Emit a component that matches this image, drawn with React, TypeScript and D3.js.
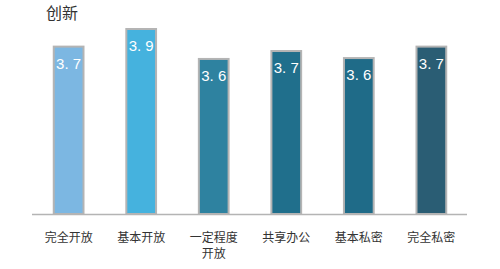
import React from "react";
import * as d3 from "d3";

const categories = ["完全开放", "基本开放", "一定程度\n开放", "共享办公", "基本私密", "完全私密"];
const values = [3.7, 3.9, 3.56, 3.65, 3.57, 3.7];
const labels = ["3. 7", "3. 9", "3. 6", "3. 7", "3. 6", "3. 7"];
const colors = ["#7cb7e2", "#45b2de", "#2e82a0", "#206f8c", "#1f6b88", "#2a5d74"];
const title = "创新";

export default function App() {
  const W = 500, H = 269;
  const x = d3.scaleBand<number>().domain(d3.range(categories.length)).range([32, 468]).paddingInner(0.59).paddingOuter(0.3);
  const y = d3.scaleLinear().domain([1.8, 3.9]).range([214, 29]);
  const font = "'Noto Sans CJK SC', 'Noto Sans', sans-serif";
  return (
    <svg width={W} height={H} style={{ position: "absolute", left: 0, top: 0 }}>
      <rect width={W} height={H} fill="#fff" />
      <text x={46} y={19} fontSize={16} fill="#333" fontFamily={font}>{title}</text>
      {values.map((v, i) => {
        const bx = x(i)!;
        const bw = x.bandwidth();
        return (
          <g key={i}>
            <rect x={bx} y={y(v)} width={bw} height={214 - y(v)} fill={colors[i]} stroke="#b4b4b4" strokeWidth={2} />
            <text x={bx + bw / 2} y={y(v) + 22} textAnchor="middle" fontSize={15} fill="#fff" fontFamily="'Liberation Sans', sans-serif">{labels[i]}</text>
          </g>
        );
      })}
      <line x1={32} x2={467} y1={214.5} y2={214.5} stroke="#b4b4b4" strokeWidth={1.5} />
      {categories.map((c, i) => {
        const cx = x(i)! + x.bandwidth() / 2;
        return (
          <text key={i} textAnchor="middle" fontSize={12} fill="#333" fontFamily={font}>
            {c.split("\n").map((line, j) => (
              <tspan key={j} x={cx} y={242 + j * 16}>{line}</tspan>
            ))}
          </text>
        );
      })}
    </svg>
  );
}
